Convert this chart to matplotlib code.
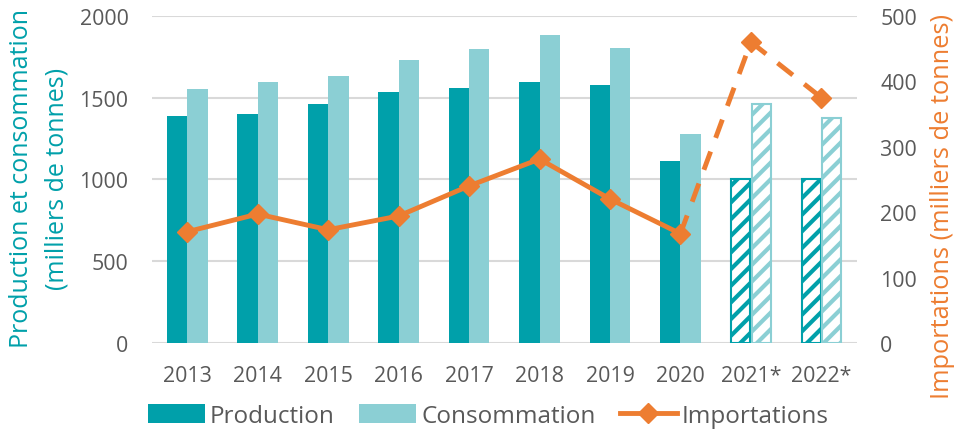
import matplotlib
matplotlib.use("Agg")
import matplotlib.pyplot as plt
from matplotlib.patches import Patch
from matplotlib.lines import Line2D
import numpy as np

plt.rcParams['font.family'] = ['Open Sans', 'DejaVu Sans']
plt.rcParams['hatch.linewidth'] = 3.0

years = ["2013", "2014", "2015", "2016", "2017", "2018", "2019", "2020", "2021*", "2022*"]
production = [1385, 1400, 1462, 1535, 1560, 1596, 1578, 1113, 1000, 1000]
consommation = [1555, 1598, 1633, 1731, 1798, 1884, 1804, 1278, 1462, 1376]
importations = [170, 197, 173, 194, 240, 281, 220, 167, 460, 375]
n_actual = 8

C_PROD = "#00A0AA"
C_CONS = "#8BCFD4"
C_IMP = "#ED7D31"
C_TXT = "#595959"
C_GRID = "#D9D9D9"

fig = plt.figure(figsize=(9.56, 4.31), dpi=100)
ax = fig.add_axes([0.159, 0.202, 0.737, 0.759])
ax2 = ax.twinx()

x = np.arange(len(years))
w = 0.29
for i in range(len(years)):
    if i < n_actual:
        ax.bar(x[i] - w/2, production[i], w, color=C_PROD, zorder=2)
        ax.bar(x[i] + w/2, consommation[i], w, color=C_CONS, zorder=2)
    else:
        ax.bar(x[i] - w/2, production[i], w * 0.93, facecolor="white", edgecolor=C_PROD,
               hatch="//", linewidth=1.5, zorder=2)
        ax.bar(x[i] + w/2, consommation[i], w * 0.93, facecolor="white", edgecolor=C_CONS,
               hatch="//", linewidth=1.5, zorder=2)

ax.set_ylim(0, 2000)
ax.set_yticks(range(0, 2001, 500))
ax.set_xlim(-0.5, 9.5)
ax.set_xticks(x)
ax.set_xticklabels(years)
ax.grid(axis="y", color=C_GRID, linewidth=1.5, zorder=0)
ax.set_axisbelow(True)
for a in (ax, ax2):
    for s in a.spines.values():
        s.set_visible(False)
    a.tick_params(length=0, colors=C_TXT, labelsize=15.4)
ax.tick_params(axis="x", pad=16)
ax.tick_params(axis="y", pad=17)
ax2.tick_params(axis="y", pad=17)

ax2.plot(x[:n_actual], importations[:n_actual], color=C_IMP, linewidth=3.5,
         marker="D", markersize=10, zorder=3)
ax2.plot(x[n_actual - 1:], importations[n_actual - 1:], color=C_IMP, linewidth=3.5,
         linestyle=(0, (4, 3)), zorder=3)
ax2.plot(x[n_actual:], importations[n_actual:], color=C_IMP, linestyle="none",
         marker="D", markersize=10, zorder=3)
ax2.set_ylim(0, 500)
ax2.set_yticks(range(0, 501, 100))

fig.text(0.022, 0.585, "Production et consommation", rotation=90, color=C_PROD,
         fontsize=18, ha="center", va="center")
fig.text(0.060, 0.585, "(milliers de tonnes)", rotation=90, color=C_PROD,
         fontsize=18, ha="center", va="center")
fig.text(0.986, 0.52, "Importations (milliers de tonnes)", rotation=90, color=C_IMP,
         fontsize=18.3, ha="center", va="center")

handles = [Patch(facecolor=C_PROD), Patch(facecolor=C_CONS),
           Line2D([0], [0], color=C_IMP, linewidth=3.5, marker="D", markersize=10)]
leg = fig.legend(handles, ["Production", "Consommation", "Importations"],
                 loc="center", bbox_to_anchor=(0.511, 0.033), ncol=3, frameon=False,
                 fontsize=17.5, handlelength=2.35, handleheight=0.8, columnspacing=1.0,
                 handletextpad=0.2, borderpad=0)
for t in leg.get_texts():
    t.set_color(C_TXT)

fig.savefig("out.png", dpi=100)
